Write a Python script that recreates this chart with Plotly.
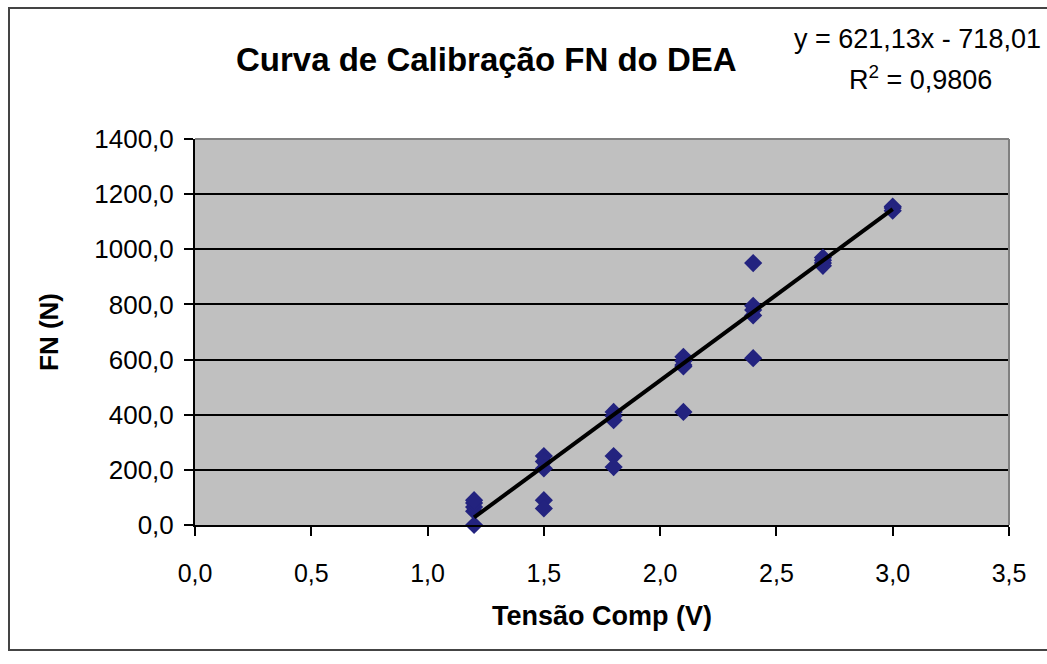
import plotly.graph_objects as go

# Data
tensao = [1.2, 1.2, 1.2, 1.2, 1.2,
          1.5, 1.5, 1.5, 1.5, 1.5,
          1.8, 1.8, 1.8, 1.8, 1.8,
          2.1, 2.1, 2.1, 2.1, 2.1,
          2.4, 2.4, 2.4, 2.4, 2.4,
          2.7, 2.7, 2.7, 2.7,
          3.0, 3.0, 3.0]
fn = [0, 50, 65, 80, 90,
      250, 230, 205, 90, 60,
      410, 395, 380, 250, 210,
      610, 595, 580, 575, 410,
      950, 795, 780, 760, 605,
      970, 960, 950, 940,
      1155, 1150, 1140]

slope = 621.13
intercept = -718.01
r2 = 0.9806
trend_x = [min(tensao), max(tensao)]
trend_y = [slope * x + intercept for x in trend_x]

x_ticks = [0.0, 0.5, 1.0, 1.5, 2.0, 2.5, 3.0, 3.5]
y_ticks = [0, 200, 400, 600, 800, 1000, 1200, 1400]

FONT = "Liberation Sans, Arial, sans-serif"

fig = go.Figure()
fig.add_trace(go.Scatter(
    x=tensao, y=fn, mode="markers",
    marker=dict(symbol="diamond", size=14, color="#23237f", line=dict(width=0)),
    showlegend=False, cliponaxis=False,
))
fig.add_trace(go.Scatter(
    x=trend_x, y=trend_y, mode="lines",
    line=dict(color="black", width=4),
    showlegend=False,
))

L, R, T, B = 195, 1009, 139, 525
W, H = 1047, 664
pw, ph = R - L, B - T

def px(x):
    return (x - L) / pw

def py(y):
    return (B - y) / ph

fig.update_layout(
    width=W, height=H,
    margin=dict(l=L, r=W - R, t=T, b=H - B, pad=0),
    paper_bgcolor="white",
    plot_bgcolor="#c0c0c0",
    separators=", ",
    font=dict(family=FONT, color="black", size=25),
    xaxis=dict(
        range=[0, 3.5], tickvals=x_ticks, tickformat=".1f",
        showgrid=False, zeroline=False,
        showline=True, linecolor="black", linewidth=2,
        ticks="outside", ticklen=9, tickwidth=2, tickcolor="black",
        tickfont=dict(size=25), ticklabelstandoff=16,
        title=dict(text="<b>Tensão Comp (V)</b>", font=dict(size=27), standoff=20),
    ),
    yaxis=dict(
        range=[0, 1400], tickvals=y_ticks, tickformat=".1f",
        showgrid=True, gridcolor="black", gridwidth=1.5,
        zeroline=False,
        showline=True, linecolor="black", linewidth=2,
        ticks="outside", ticklen=9, tickwidth=2, tickcolor="black",
        tickfont=dict(size=26), ticklabelstandoff=5,
        title=dict(text="<b>FN (N)</b>", font=dict(size=26), standoff=28),
    ),
    shapes=[
        dict(type="line", xref="paper", yref="paper", x0=0, x1=1, y0=1, y1=1,
             line=dict(color="#808080", width=2)),
        dict(type="line", xref="paper", yref="paper", x0=1, x1=1, y0=0, y1=1,
             line=dict(color="#808080", width=2)),
        dict(type="rect", xref="paper", yref="paper",
             x0=px(9), x1=px(1060), y0=py(650), y1=py(8),
             line=dict(color="#444444", width=2), fillcolor="rgba(0,0,0,0)"),
    ],
    annotations=[
        dict(text="<b>Curva de Calibração FN do DEA</b>", xref="paper", yref="paper",
             x=px(486), y=py(60), xanchor="center", yanchor="middle",
             showarrow=False, font=dict(size=33)),
        dict(text="y = 621,13x - 718,01", xref="paper", yref="paper",
             x=px(1043), y=py(39), xanchor="right", yanchor="middle",
             showarrow=False, font=dict(size=27)),
        dict(text="R<sup>2</sup> = 0,9806", xref="paper", yref="paper",
             x=px(994), y=py(78), xanchor="right", yanchor="middle",
             showarrow=False, font=dict(size=27)),
    ],
)

fig.write_html("out.html")
